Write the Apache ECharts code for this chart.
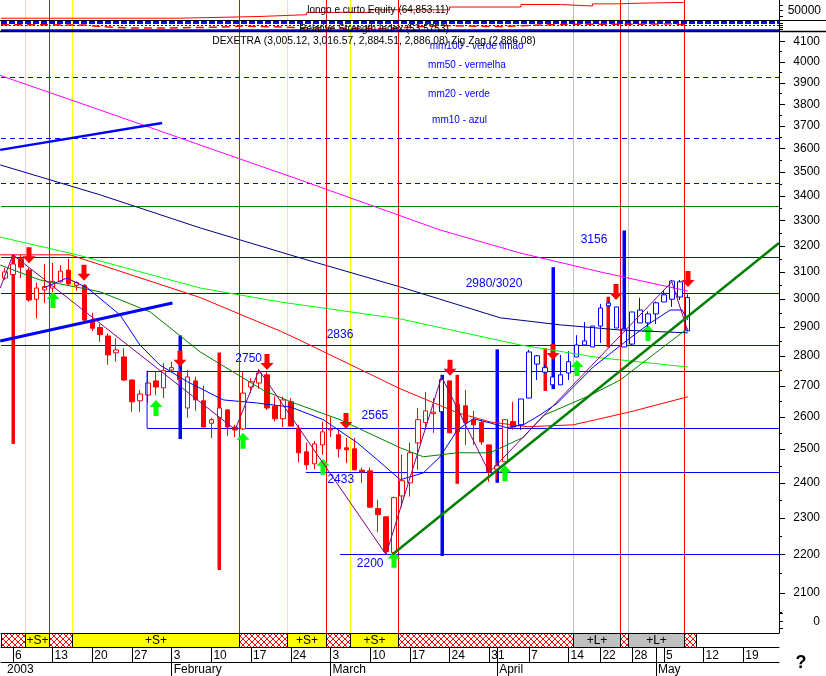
<!DOCTYPE html>
<html><head><meta charset="utf-8">
<script src="https://cdn.jsdelivr.net/npm/echarts@6/dist/echarts.min.js"></script>
<style>html,body{margin:0;padding:0;background:#fff}#c{width:826px;height:676px}</style>
</head><body><div id="c"></div>
<script>
var FONT = '"Liberation Sans", Arial, sans-serif';
var CAT_N = 98;
var holidays = ['2003-04-18','2003-04-21','2003-05-01'];
var monthNames = ['January','February','March','April','May','June'];

// candles (index 0 = 2003-01-03)
var opens  = [3077,3090,3150,3107,2999,3033,3040,3063,3107,3050,3050,2924,2898,2868,2810,2796,2719,2651,2670,2716,2693,2752,2745,2628,2716,2651,2580,2597,2622,2568,2562,2696,2709,2736,2634,2594,2648,2565,2492,2456,2513,2559,2544,2504,2501,2437,2435,2326,2303,2205,2362,2400,2519,2582,2610,2616,2716,2640,2635,2590,2582,2513,2440,2462,2585,2575,2660,2800,2760,2729,2703,2742,2796,2851,2830,2903,2975,2971,2893,2840,2960,2914,2946,2989,2999,3063,3005.12];
var closes = [3100,3130,3118,2996,3040,3045,3065,3103,3055,3060,2924,2895,2873,2803,2820,2719,2648,2673,2709,2696,2750,2760,2720,2729,2654,2568,2591,2628,2568,2559,2676,2713,2742,2628,2594,2654,2571,2489,2453,2516,2553,2562,2501,2498,2438,2432,2330,2309,2208,2357,2406,2489,2591,2619,2615,2720,2550,2553,2582,2575,2522,2432,2450,2591,2568,2657,2813,2772,2745,2703,2736,2780,2837,2837,2903,2967,2985,2896,2830,2953,2914,2946,2986,3015,3066,3007,2886.08];
var lows   = [3070,3080,3077,2990,2930,2985,3025,3060,3050,3030,2920,2885,2848,2770,2780,2715,2615,2615,2645,2670,2660,2745,2700,2597,2620,2568,2534,2590,2540,2537,2559,2676,2690,2622,2585,2568,2571,2460,2438,2440,2483,2537,2475,2458,2438,2400,2330,2260,2200,2200,2330,2360,2438,2559,2550,2600,2550,2540,2513,2513,2513,2403,2410,2462,2559,2559,2660,2719,2740,2695,2703,2719,2796,2837,2830,2844,2970,2896,2830,2835,2914,2900,2910,2989,2971,2996,2884.51];
var highs  = [3115,3150,3165,3115,3060,3130,3135,3125,3150,3065,3055,2950,2910,2877,2860,2825,2720,2686,2745,2745,2775,2780,2760,2752,2730,2700,2597,2640,2625,2575,2745,2725,2755,2745,2665,2665,2660,2575,2520,2525,2585,2600,2560,2534,2534,2445,2445,2351,2303,2360,2483,2520,2628,2680,2660,2736,2716,2660,2686,2620,2590,2513,2460,2591,2648,2657,2820,2803,2770,2735,2803,2816,2871,2917,2903,2982,2990,2971,2893,2953,3004,2955,2990,3033,3070,3070,3016.57];
var blueCandleFrom = 65;
var blueCandleExtra = [55];

// thick signal bars [index, high, low]
var redSignals  = [[1,3165,2516],[27,2811,2159],[57,2736,2397],[68,2826,2683],[76,3008,2829]];
var blueSignals = [[22,2870,2531],[55,2736,2196],[62,2822,2400],[69,3118,2689],[78,3260,2831]];

// arrows [index, tip price]
var sellArrows = [[3,3133],[10,3067],[22,2763],[33,2752],[43,2562],[56,2733],[69,2786],[77,2996],[86,3044]];
var buyArrows  = [[6,3025],[19,2654],[30,2550],[40,2471],[49,2207],[63,2452],[72,2786],[81,2907]];

// moving averages (index, price)
var mm200 = [[-0.6,3935],[12,3773],[24.6,3616],[37.2,3466],[54.8,3262],[64.9,3172],[75,3100],[86,3029]];
var mmNavy = [[-0.6,3530],[12,3404],[24.6,3270],[37.2,3153],[49.8,3044],[62.4,2932],[70,2907],[77.5,2889],[86,2879]];
var mm100 = [[-0.6,3234],[9.1,3165],[24.6,3040],[34.7,2989],[49.8,2928],[64.9,2837],[75,2793],[86,2762]];
var mm50  = [[-0.6,3165],[8.2,3165],[24.6,3005],[34.7,2885],[36.8,2858],[49.8,2690],[57,2613],[61.1,2584],[65.8,2569],[71.6,2575],[78.8,2616],[86,2664]];
var mm20  = [[-0.6,3126],[4.4,3070],[12,3026],[18.3,2953],[24.6,2813],[32.5,2686],[36,2648],[42.2,2591],[49.8,2504],[52.7,2477],[57,2489],[61.1,2489],[65.3,2536],[67.8,2604],[73.8,2670],[77.5,2719],[86,2895]];
var mm10  = [[4.8,3040],[7.8,3077],[10.4,3040],[14.5,2942],[17,2837],[19.5,2769],[23,2713],[27.5,2654],[31.8,2644],[36,2631],[40.1,2591],[44.4,2519],[46.9,2468],[49.8,2409],[52.7,2429],[54.8,2477],[57,2559],[59,2594],[61.1,2581],[63.2,2566],[65.3,2575],[67.4,2606],[69.6,2644],[71.6,2696],[74.1,2762],[78.4,2854],[81.3,2914],[83.8,2960],[85.3,2960],[86,2924]];
var zigzag = [[-0.6,3040],[1,3165],[29,2560],[32,2752],[48,2200],[55,2730],[61,2430],[84,3063],[86,2886]];

// trend lines
var blueTrend1 = [[-0.6,2851],[21.1,2985]];
var blueTrend2 = [[-0.6,3595],[19.8,3714]];
var greenTrend = [[48.8,2200],[97.5,3211]];

// horizontal levels
var levelPrices = [3156,3020,2836,2750,2565,2433,2200];
var levelStart  = [-0.5,-0.5,-0.5,17.9,17.9,37.9,42.2];
var boxLeft = [[17.9,2750],[17.9,2565]];
var levelTexts = ['3156','2980/3020','2836','2750','2565','2433','2200'];
var levelTextPos = [[74.2,3223],[61.6,3055],[42.2,2872],[30.7,2789],[46.6,2603],[42.3,2408],[46,2175]];
var dashedLevels = [3928,3647,3454];
var greenLevels = [3359];

// legend notes on the chart
var noteTexts = ['mm100 - verde limão','mm50 - vermelha','mm20 - verde','mm10 - azul'];
var notePos = [[53.5,4078],[53.3,3985],[53.3,3847],[53.8,3728]];

// equity pane (step) and RSI pane
var equity = [[-0.5,35900],[22,39000],[32,42300],[38,46500],[46,51350],[56,56400],[65,61000],[70,58300],[74,62200],[77,63500],[80,64850],[85.5,64850]];
var rsi = [[-0.5,57],[10,55],[12,40],[16,27],[20,27],[27,35],[30,45],[38,30],[48,22],[55,50],[62,40],[70,60],[80,62],[84,65],[86,53.6]];
var rsiBands = [82,55,12];

// signal strip and vertical lines
var stripBounds = [-0.5,2.5,5.5,8.5,29.5,35.5,40.5,43.5,49.5,71.5,77.5,78.5,85.5,87];
var stripKinds  = ['h','S','h','S','h','S','h','S','h','L','h','L','h'];
var vlineIdx  = [2.5,5.5,8.5,29.5,35.5,40.5,43.5,49.5,71.5,77.5,78.5,85.5];
var vlineKind = ['S','X','S','X','S','X','S','X','L','X','L','X'];

// axis ticks
var priceTicks = [2100,2200,2300,2400,2500,2600,2700,2800,2900,3000,3100,3200,3300,3400,3500,3600,3700,3800,3900,4000,4100];
var equityTicks = [50000];

// ---------- build ----------
function buildDates(){
  var out=[], d=new Date(Date.UTC(2003,0,3));
  while(out.length<CAT_N){
    var dow=d.getUTCDay(), s=d.toISOString().slice(0,10);
    if(dow!==0 && dow!==6 && holidays.indexOf(s)<0) out.push(s);
    d.setUTCDate(d.getUTCDate()+1);
  }
  return out;
}
var dates = buildDates();
var weekStart = dates.map(function(s,i){
  if(i===0) return false;
  return new Date(s+'T00:00:00Z').getUTCDay() <= new Date(dates[i-1]+'T00:00:00Z').getUTCDay();
});
var monthStart = dates.map(function(s,i){ return i>0 && s.slice(5,7)!==dates[i-1].slice(5,7); });
var minorTicks = priceTicks.map(function(p){return p-50;}).concat([4150]);

var hatch = (function(){
  var c=document.createElement('canvas'); c.width=6; c.height=6;
  var g=c.getContext('2d'); g.fillStyle='#fff'; g.fillRect(0,0,6,6);
  g.strokeStyle='#f00'; g.lineWidth=1; g.beginPath();
  g.moveTo(0,0); g.lineTo(6,6); g.moveTo(6,0); g.lineTo(0,6); g.stroke();
  return c;
})();

function isBlue(i){ return i>=blueCandleFrom || blueCandleExtra.indexOf(i)>=0; }
var candleData = opens.map(function(o,i){
  var it = {value:[o,closes[i],lows[i],highs[i]]};
  if(isBlue(i)) it.itemStyle = {color:'#fff', color0:'#0000ff', borderColor:'#0000ff', borderColor0:'#0000ff'};
  return it;
});

function xv(g){ return {type:'value', gridIndex:g, min:-0.5, max:CAT_N-0.5, show:false}; }
function px(v){ return Math.round(v)+0.5; }
function plain(v){ return String(Math.round(v)); }
function lineS(data, color, width){
  return {type:'line', xAxisIndex:1, yAxisIndex:0, data:data, symbol:'none', silent:true,
    lineStyle:{color:color, width:width}};
}
function signalSeries(arr, color){
  return {type:'custom', xAxisIndex:1, yAxisIndex:0, silent:true, data:arr,
    renderItem:function(p, api){
      var a=api.coord([api.value(0), api.value(1)]), b=api.coord([api.value(0), api.value(2)]);
      return {type:'rect', shape:{x:Math.round(a[0])-1.5, y:a[1], width:3.5, height:b[1]-a[1]}, style:{fill:color}};
    }};
}
function arrowSeries(arr, color, down){
  return {type:'custom', xAxisIndex:1, yAxisIndex:0, silent:true, data:arr,
    renderItem:function(p, api){
      var t=api.coord([api.value(0), api.value(1)]); var x=Math.round(t[0]), y=t[1], s=down?-1:1;
      var pts=[[x,y],[x-6.5,y+s*7],[x-2.5,y+s*7],[x-2.5,y+s*16],[x+2.5,y+s*16],[x+2.5,y+s*7],[x+6.5,y+s*7]];
      return {type:'polygon', shape:{points:pts}, style:{fill:color}};
    }};
}
function textSeries(pos, texts, color, font, align){
  return {type:'custom', xAxisIndex:1, yAxisIndex:0, silent:true, data:pos, z:5,
    renderItem:function(p, api){
      var c=api.coord([api.value(0), api.value(1)]);
      return {type:'text', x:c[0], y:c[1], style:{text:texts[p.dataIndex], fill:color, font:font, align:align, verticalAlign:'middle'}};
    }};
}
function hLevelSeries(data, color, dash, width){
  return {type:'custom', xAxisIndex:1, yAxisIndex:0, silent:true, data:data,
    renderItem:function(p, api){
      var a=api.coord([api.value(0), api.value(1)]), b=api.coord([CAT_N-0.5, api.value(1)]);
      return {type:'line', shape:{x1:a[0], y1:px(a[1]), x2:b[0], y2:px(a[1])}, style:{stroke:color, lineWidth:width||1, lineDash:dash||null}};
    }};
}

var vColor = {S:'#ffff00', X:'#ff0000', L:'#c0c0c0'};
var axisFont = {color:'#000', fontSize:12, fontFamily:FONT};
var blackLine = {show:true, onZero:false, lineStyle:{color:'#000'}};

var option = {
  animation:false,
  backgroundColor:'#fff',
  grid:[
    {left:1,right:47,top:32,height:601},
    {left:1,right:47,top:0,height:20},
    {left:1,right:47,top:20,height:11},
    {left:1,right:47,top:633,height:14},
    {left:1,right:47,top:0,height:633},
    {left:1,right:47,top:611,height:21},
    {left:1,right:47,top:32,height:601}
  ],
  xAxis:[
    {type:'category', gridIndex:0, data:dates, show:false},
    xv(0), xv(1), xv(2),
    {type:'value', gridIndex:3, min:-0.5, max:CAT_N-0.5, position:'top', axisLine:{show:true, onZero:false, lineStyle:{color:'#000'}}, axisTick:{show:false}, axisLabel:{show:false}, splitLine:{show:false}},
    {type:'category', gridIndex:3, data:dates, position:'bottom',
      axisLine:blackLine,
      axisTick:{show:true, alignWithLabel:true, interval:function(i){return weekStart[i];}, length:15, lineStyle:{color:'#000'}},
      axisLabel:Object.assign({interval:function(i){return weekStart[i];}, formatter:function(v){return String(+v.slice(8));}, align:'left', padding:[0,0,0,2], margin:3, verticalAlign:'top'}, axisFont)},
    {type:'category', gridIndex:3, data:dates, position:'bottom', offset:15,
      axisLine:blackLine, axisTick:{show:false},
      axisLabel:Object.assign({interval:function(i){return i===0||monthStart[i];}, formatter:function(v,i){return i===0?'2003':monthNames[+v.slice(5,7)-1];}, align:'left', padding:[0,0,0,2], margin:2, verticalAlign:'top'}, axisFont)},
    {type:'category', gridIndex:3, data:dates, position:'bottom',
      axisLine:{show:false},
      axisTick:{show:true, alignWithLabel:true, interval:function(i){return monthStart[i];}, length:29, lineStyle:{color:'#000'}},
      axisLabel:{interval:function(i){return monthStart[i];}, formatter:function(){return '';}}},
    xv(4), xv(5), xv(6)
  ],
  yAxis:[
    {type:'log', logBase:10, gridIndex:0, min:2000, max:4148, position:'right',
      axisLine:blackLine, axisTick:{show:true, customValues:priceTicks, length:6, lineStyle:{color:'#000'}},
      axisLabel:Object.assign({customValues:priceTicks, align:'right', margin:41, formatter:plain}, axisFont), splitLine:{show:false}},
    {type:'value', gridIndex:1, min:32600, max:69300, position:'right',
      axisLine:blackLine, axisTick:{show:true, customValues:[40000,50000,60000], length:4, lineStyle:{color:'#000'}},
      axisLabel:Object.assign({customValues:equityTicks, align:'right', margin:42, formatter:plain}, axisFont), splitLine:{show:false}},
    {type:'value', gridIndex:2, min:0, max:100, position:'right',
      axisLine:blackLine, axisTick:{show:true, customValues:[15,35,55,75,95], length:4, lineStyle:{color:'#000'}},
      axisLabel:{show:false}, splitLine:{show:false}},
    {type:'value', gridIndex:3, min:0, max:1, show:false},
    {type:'value', gridIndex:4, min:0, max:1, show:false},
    {type:'value', gridIndex:5, min:-1, max:1, position:'right',
      axisLine:{show:false, onZero:false}, axisTick:{show:true, customValues:[-0.6,0,0.8], length:4, lineStyle:{color:'#000'}},
      axisLabel:Object.assign({customValues:[0], align:'right', margin:41, formatter:plain}, axisFont), splitLine:{show:false}},
    {type:'log', logBase:10, gridIndex:6, min:2000, max:4148, position:'right',
      axisLine:{show:false, onZero:false}, axisTick:{show:true, customValues:minorTicks, length:3, lineStyle:{color:'#000'}},
      axisLabel:{show:false}, splitLine:{show:false}}
  ],
  graphic:[
    {type:'line', shape:{x1:0,y1:20.5,x2:826,y2:20.5}, style:{stroke:'#000', lineWidth:1}, z:10},
    {type:'line', shape:{x1:0,y1:31.5,x2:826,y2:31.5}, style:{stroke:'#000', lineWidth:1.5}, z:10},
    {type:'text', x:378, y:10, z:10, style:{text:'longo e curto Equity (64,853.11)', fill:'#000', font:'10px '+FONT, align:'center', verticalAlign:'middle'}},
    {type:'text', x:374, y:29, z:10, style:{text:'Relative Strength Index (53.5753)', fill:'#000', font:'10px '+FONT, align:'center', verticalAlign:'middle'}},
    {type:'text', x:374, y:41, z:10, style:{text:'DEXETRA (3,005.12, 3,016.57, 2,884.51, 2,886.08) Zig Zag (2,886.08)', fill:'#000', font:'10.3px '+FONT, align:'center', verticalAlign:'middle'}},
    {type:'text', x:801, y:663, z:10, style:{text:'?', fill:'#000', font:'bold 18px '+FONT, align:'center', verticalAlign:'middle'}}
  ],
  series:[
    {type:'custom', xAxisIndex:8, yAxisIndex:4, silent:true, data:vlineIdx.map(function(x){return [x,0];}),
      renderItem:function(p, api){
        var a=api.coord([api.value(0),1]), b=api.coord([api.value(0),0]);
        return {type:'line', shape:{x1:px(a[0]), y1:a[1], x2:px(a[0]), y2:b[1]}, style:{stroke:vColor[vlineKind[p.dataIndex]], lineWidth:1}};
      }},
    {type:'line', xAxisIndex:2, yAxisIndex:1, data:equity, step:'end', symbol:'none', silent:true, lineStyle:{color:'#ff0000', width:1}},
    {type:'custom', xAxisIndex:3, yAxisIndex:2, silent:true, data:rsiBands.map(function(v){return [-0.5,v];}),
      renderItem:function(p, api){
        var a=api.coord([-0.5, api.value(1)]), b=api.coord([CAT_N-0.5, api.value(1)]);
        var i=p.dataIndex;
        return {type:'line', shape:{x1:a[0], y1:px(a[1]), x2:b[0], y2:px(a[1])}, style:{stroke:'#0000ff', lineWidth:i===1?1:(i===0?3:2.5), lineDash:i===0?[6,2]:(i===1?[2,2]:null)}};
      }},
    {type:'line', xAxisIndex:3, yAxisIndex:2, data:rsi, symbol:'none', silent:true, lineStyle:{color:'#ff0000', width:1.5, type:[8,5]}},
    {type:'custom', xAxisIndex:4, yAxisIndex:3, silent:true,
      data:stripKinds.map(function(k,i){return [stripBounds[i], stripBounds[i+1]];}),
      renderItem:function(p, api){
        var kind=stripKinds[p.dataIndex];
        var a=api.coord([api.value(0),1]), b=api.coord([api.value(1),0]);
        var x0=px(a[0]), x1=px(b[0]), y0=px(a[1]), y1=px(b[1]);
        var fill = kind==='S'?'#ffff00':(kind==='L'?'#c0c0c0':{image:hatch, repeat:'repeat'});
        var ch=[{type:'rect', shape:{x:x0,y:y0,width:x1-x0,height:y1-y0}, style:{fill:fill, stroke:'#000', lineWidth:1}}];
        if(kind!=='h') ch.push({type:'text', x:(x0+x1)/2, y:(y0+y1)/2+0.5, style:{text:kind==='S'?'+S+':'+L+', fill:'#000', font:'12px '+FONT, align:'center', verticalAlign:'middle'}});
        return {type:'group', children:ch};
      }},
    hLevelSeries(dashedLevels.map(function(v){return [-0.5,v];}), '#0000ff', [5,4]),
    hLevelSeries(greenLevels.map(function(v){return [-0.5,v];}), '#008000'),
    lineS(mm200, '#ff00ff', 1),
    lineS(mmNavy, '#000080', 1),
    lineS(mm100, '#00ff00', 1),
    lineS(mm50, '#ff0000', 1),
    lineS(mm20, '#008000', 1),
    lineS(blueTrend1, '#0000ff', 3),
    lineS(blueTrend2, '#0000ff', 2.5),
    hLevelSeries(levelPrices.map(function(v,i){return [levelStart[i],v];}), '#0000ff'),
    lineS(boxLeft, '#0000ff', 1),
    {type:'candlestick', xAxisIndex:0, yAxisIndex:0, barWidth:5, data:candleData, silent:true,
      itemStyle:{color:'#fff', color0:'#ff0000', borderColor:'#ff0000', borderColor0:'#ff0000', borderWidth:1}},
    lineS(mm10, '#0000ff', 1),
    lineS(zigzag, '#800080', 1),
    lineS(greenTrend, '#008000', 2.5),
    signalSeries(redSignals, '#ff0000'),
    signalSeries(blueSignals, '#0000ff'),
    arrowSeries(sellArrows, '#ff0000', true),
    arrowSeries(buyArrows, '#00ff00', false),
    textSeries(levelTextPos, levelTexts, '#0000ff', '12px '+FONT, 'center'),
    textSeries(notePos, noteTexts, '#0000ff', '10px '+FONT, 'left')
  ]
};
var chart = echarts.init(document.getElementById('c'));
chart.setOption(option);
</script>
</body></html>
